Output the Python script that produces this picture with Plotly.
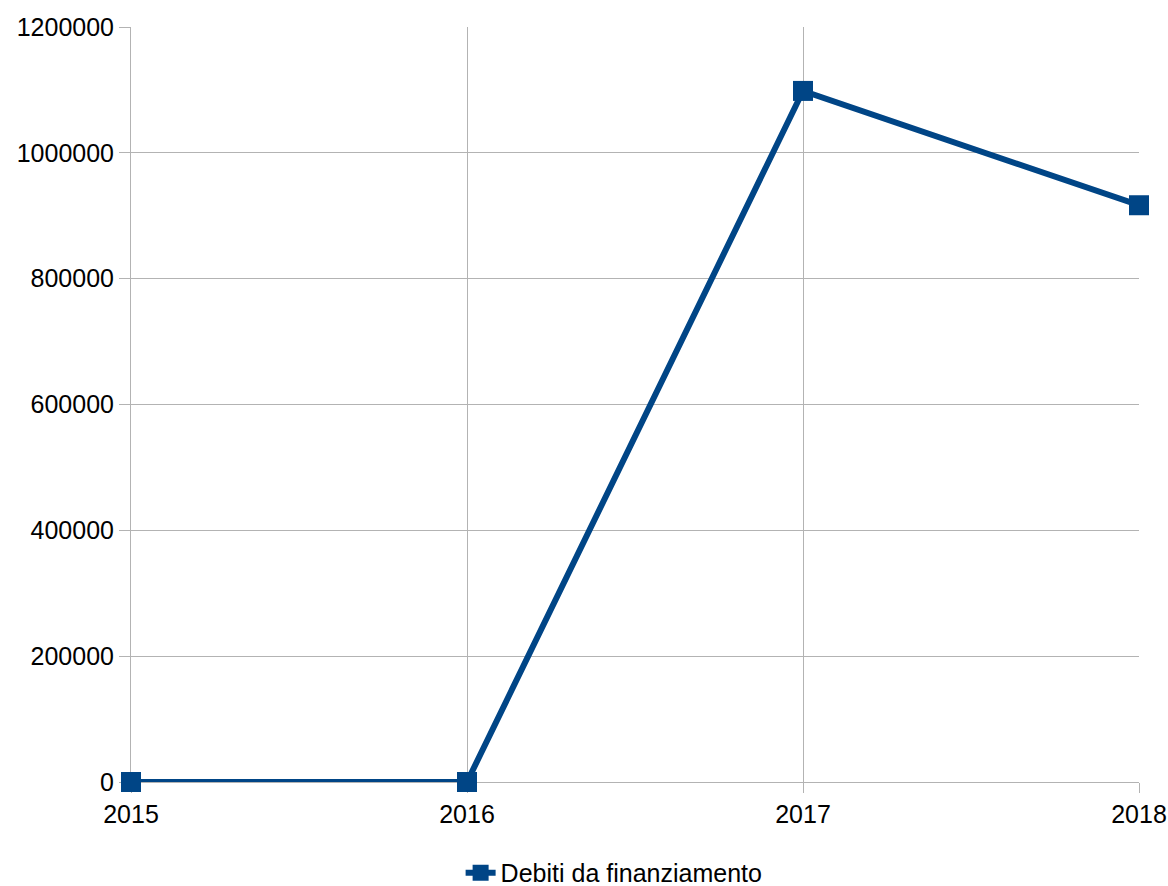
import plotly.graph_objects as go

years = ["2015", "2016", "2017", "2018"]
values = [0, 0, 1098400, 916700]
series_name = "Debiti da finanziamento"
y_ticks = [0, 200000, 400000, 600000, 800000, 1000000, 1200000]

color = "#004586"
grid = "#b3b3b3"

fig = go.Figure()
fig.add_trace(go.Scatter(
    x=years, y=values, name=series_name, mode="lines+markers",
    line=dict(color=color, width=6),
    marker=dict(symbol="square", size=20, color=color),
    cliponaxis=False,
))

fig.update_layout(
    width=1168, height=886,
    margin=dict(l=131, r=29, t=27, b=104, autoexpand=False),
    paper_bgcolor="white", plot_bgcolor="white",
    font=dict(family="Liberation Sans, Arial, sans-serif", size=25, color="#000000"),
    showlegend=True,
    legend=dict(orientation="h", x=0.327, xanchor="left", yref="container",
                y=0.0147, yanchor="middle", font=dict(size=25)),
)
fig.update_xaxes(
    type="category", range=[0, 3], showgrid=True, gridcolor=grid, gridwidth=1,
    ticks="outside", ticklen=10, tickcolor=grid, showline=True, linecolor=grid,
    linewidth=1, zeroline=False, automargin=False, layer="below traces",
)
fig.update_yaxes(
    range=[0, 1200000], tickvals=y_ticks, tickformat="d", showgrid=True,
    gridcolor=grid, gridwidth=1, ticks="outside", ticklen=11, tickcolor=grid,
    showline=True, linecolor=grid, linewidth=1, zeroline=False, automargin=False,
    layer="below traces",
)

fig.write_html(
    "out.html",
    config={"displayModeBar": False},
    post_script="document.body.style.margin='0';document.body.style.overflow='hidden';",
)
